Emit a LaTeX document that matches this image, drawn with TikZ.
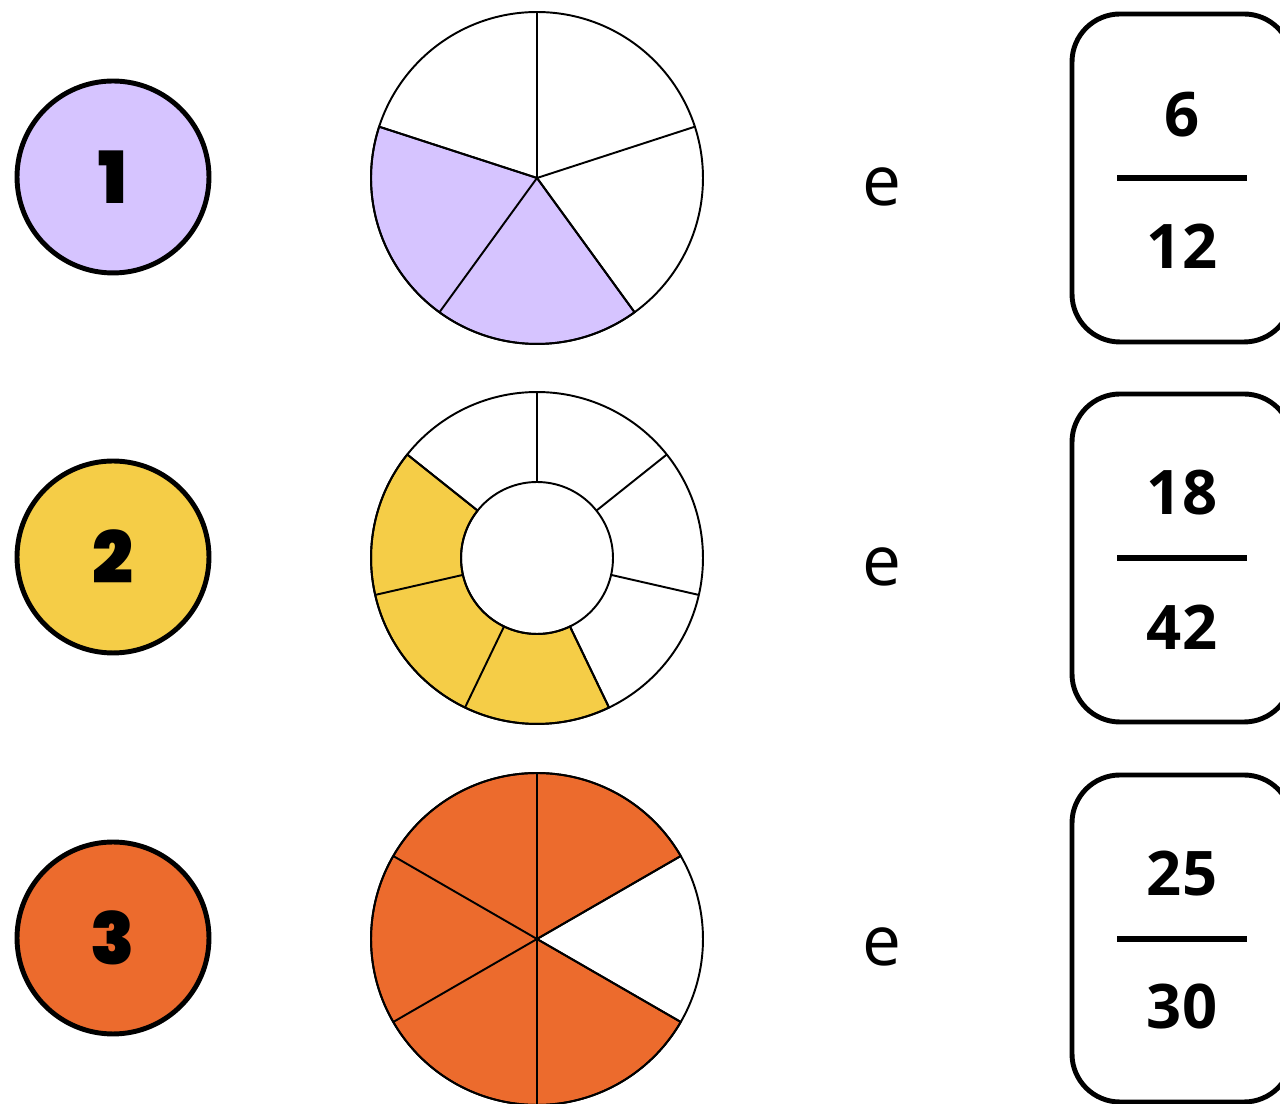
\documentclass[tikz,border=0pt]{standalone}
\usepackage{fontspec}
\setmainfont{Open Sans}
\newfontfamily\badgefont{Poppins Black}
\usetikzlibrary{calc}
\definecolor{lilac}{HTML}{D6C4FF}
\definecolor{sun}{HTML}{F5CD47}
\definecolor{tangerine}{HTML}{EC6B2D}
\tikzset{
  badge/.style={circle, draw, line width=2.8pt, minimum size=3.84cm, inner sep=0pt,
    font=\badgefont\fontsize{41pt}{45pt}\selectfont},
  spoke/.style={line width=1.1pt},
  card/.style={line width=2.8pt, rounded corners=0.96cm},
  bar/.style={line width=3.4pt},
  numtext/.style={font=\fontsize{35pt}{40pt}\selectfont\bfseries},
  andtext/.style={font=\fontsize{39.5pt}{44pt}\selectfont}
}
\begin{document}
\begin{tikzpicture}[x=0.02cm, y=0.02cm]
\useasboundingbox (0,0) rectangle (1280,1104);
\def\r{3.32cm}
\def\ri{1.52cm}
% row 1
\node[badge, fill=lilac] (badge1) at (113,927) {1};
\coordinate (pie1) at (537,926);
\filldraw[fill=lilac, spoke] (pie1) -- ($(pie1)+(162:\r)$) arc (162:306:\r) -- cycle;
\foreach \a in {90,18,-54,-126,162}
  \draw[spoke] (pie1) -- ($(pie1)+(\a:\r)$);
\draw[spoke] (pie1) circle (\r);
\node[andtext] (and1) at (882,917) {e};
\draw[card] (1072,762) rectangle (1292,1090);
\node[numtext] (num1) at (1182,989) {6};
\draw[bar] (1117,926) -- (1247,926);
\node[numtext] (den1) at (1182,858) {12};
% row 2
\node[badge, fill=sun] (badge2) at (113,547) {2};
\coordinate (pie2) at (537,546);
\filldraw[fill=sun, spoke] ($(pie2)+(141.43:\r)$) arc (141.43:295.71:\r)
  -- ($(pie2)+(295.71:\ri)$) arc (295.71:141.43:\ri) -- cycle;
\foreach \a in {90,38.57,-12.86,-64.29,-115.71,-167.14,141.43}
  \draw[spoke] ($(pie2)+(\a:\ri)$) -- ($(pie2)+(\a:\r)$);
\draw[spoke] (pie2) circle (\r);
\draw[spoke] (pie2) circle (\ri);
\node[andtext] (and2) at (882,537) {e};
\draw[card] (1072,382) rectangle (1292,710);
\node[numtext] (num2) at (1182,611) {18};
\draw[bar] (1117,546) -- (1247,546);
\node[numtext] (den2) at (1182,477) {42};
% row 3
\node[badge, fill=tangerine] (badge3) at (113,166) {3};
\coordinate (pie3) at (537,165);
\filldraw[fill=tangerine, spoke] (pie3) -- ($(pie3)+(30:\r)$) arc (30:330:\r) -- cycle;
\foreach \a in {90,30,-30,-90,-150,150}
  \draw[spoke] (pie3) -- ($(pie3)+(\a:\r)$);
\draw[spoke] (pie3) circle (\r);
\node[andtext] (and3) at (882,157) {e};
\draw[card] (1072,2) rectangle (1292,329);
\node[numtext] (num3) at (1182,230) {25};
\draw[bar] (1117,165) -- (1247,165);
\node[numtext] (den3) at (1182,97) {30};
\end{tikzpicture}
\end{document}
